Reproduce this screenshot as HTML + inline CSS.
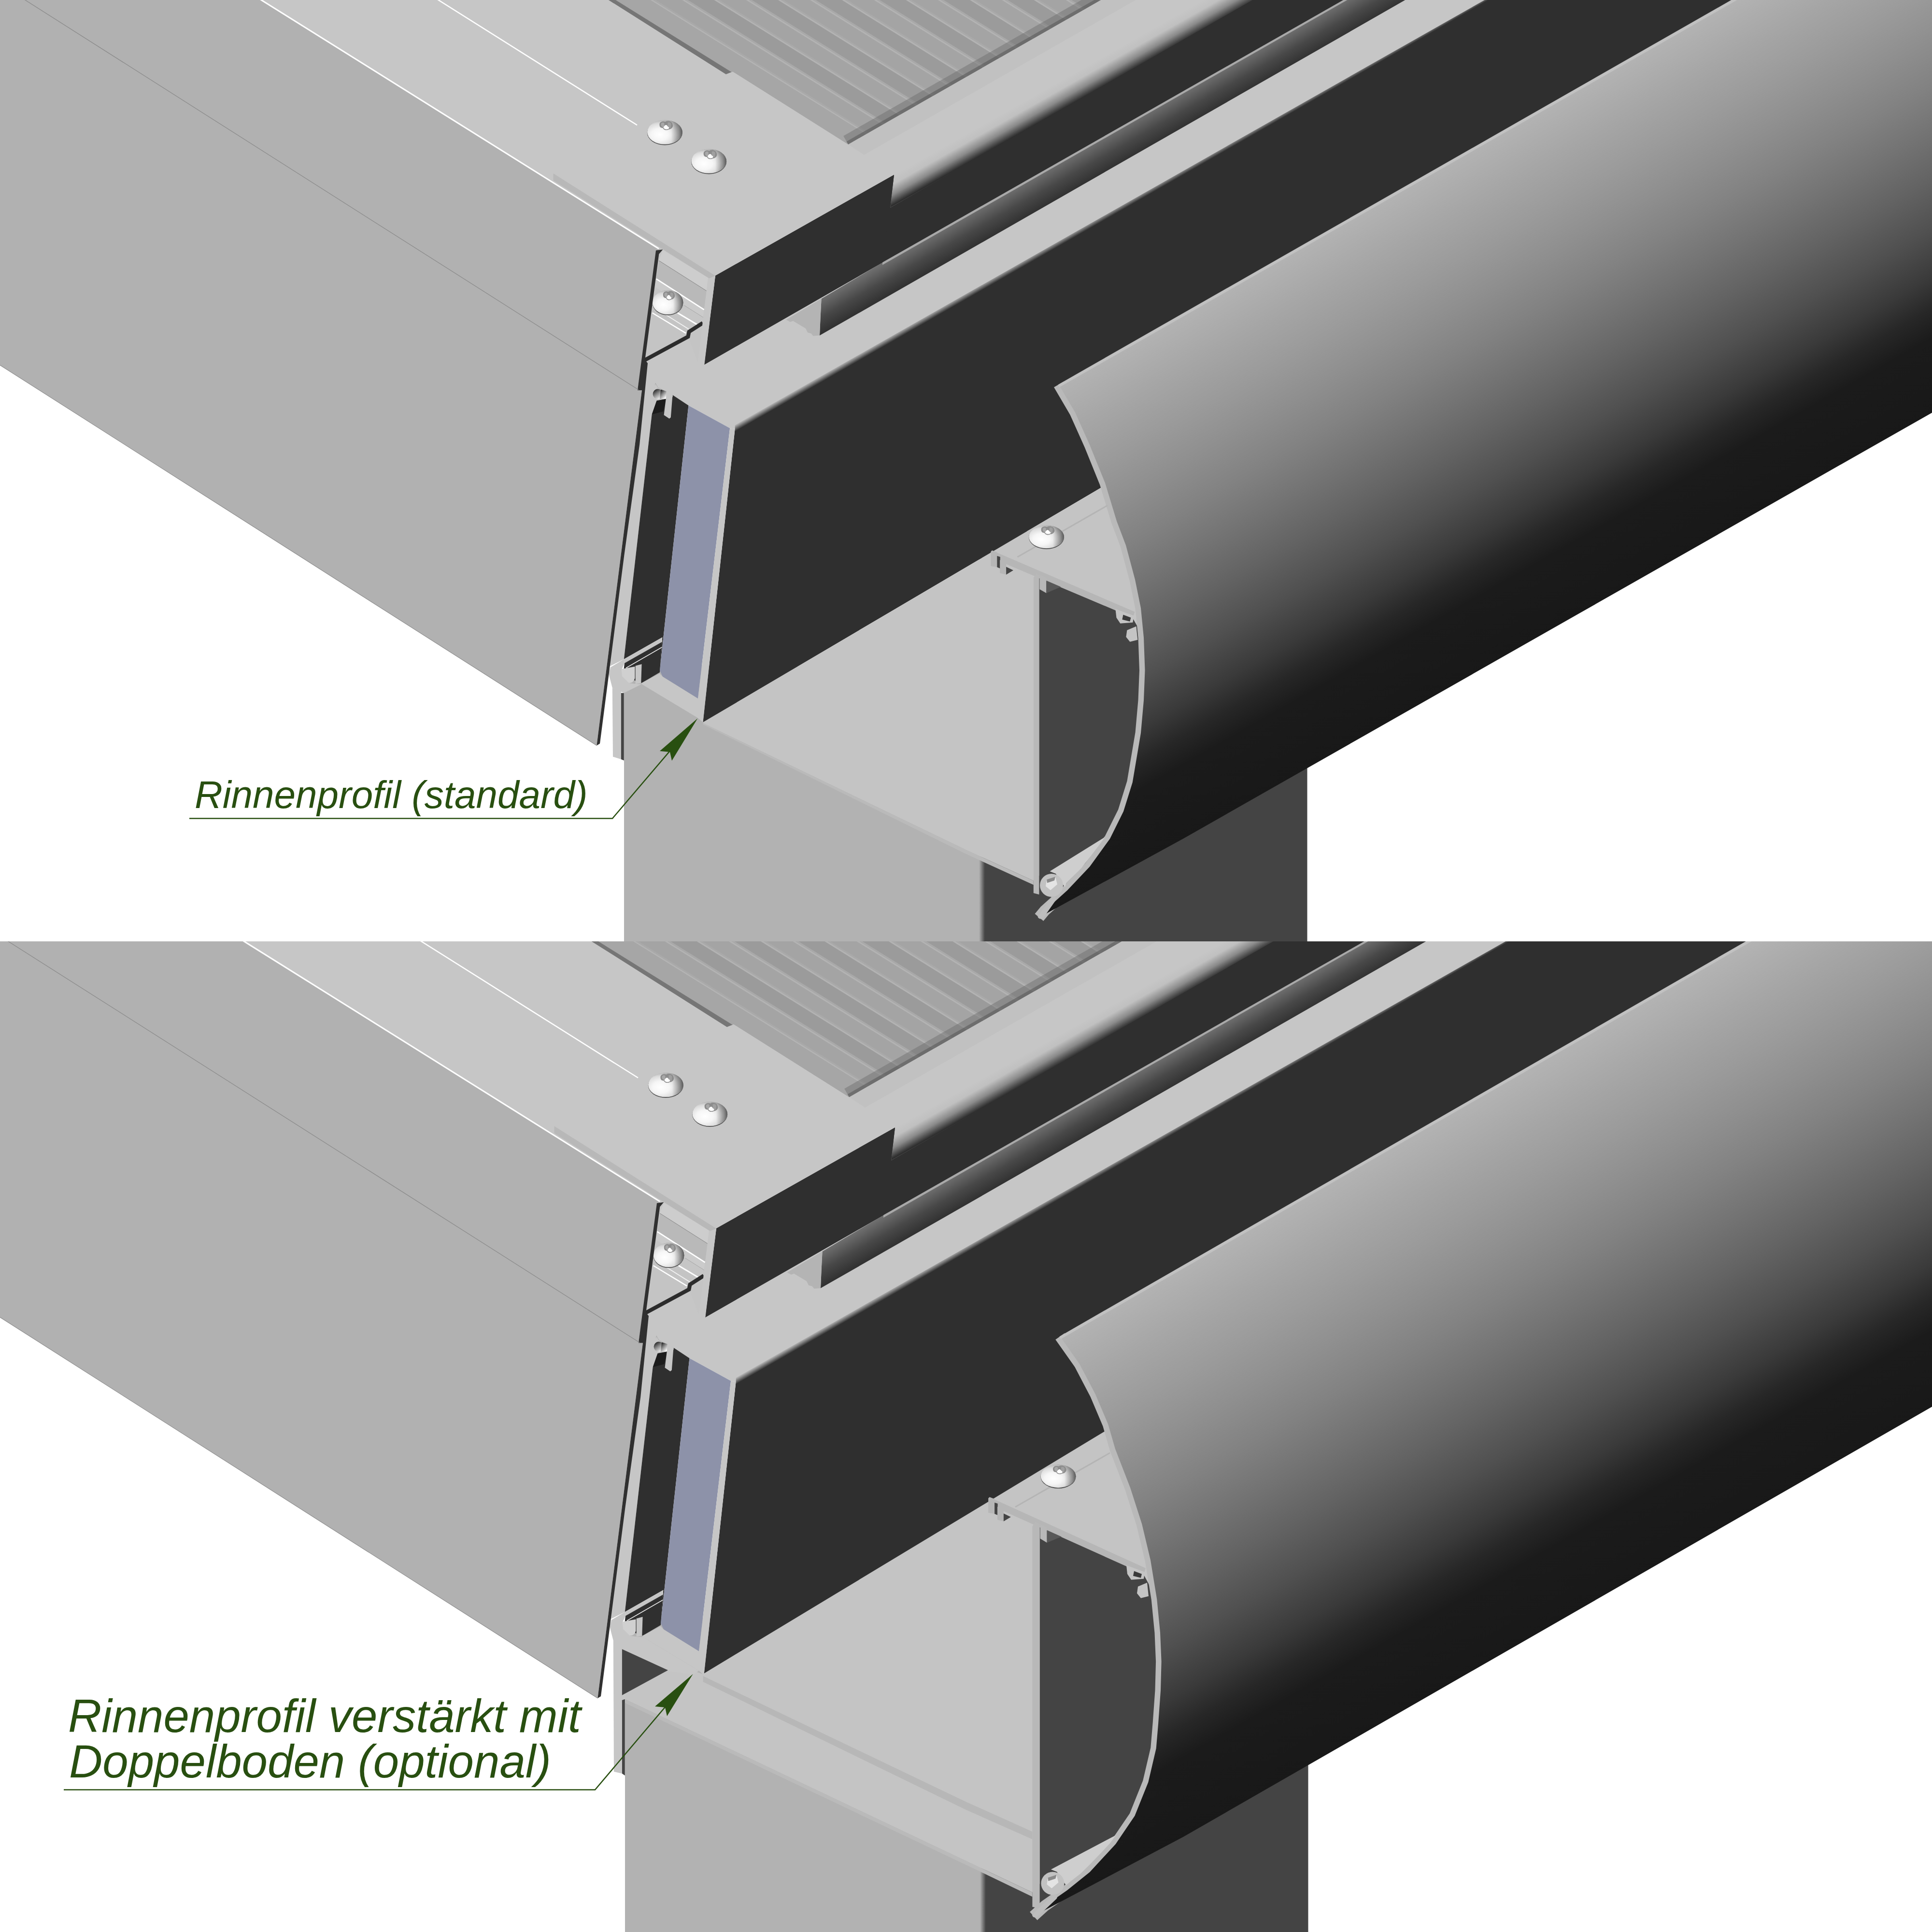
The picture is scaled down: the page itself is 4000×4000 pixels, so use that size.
<!DOCTYPE html>
<html><head><meta charset="utf-8"><title>Rinnenprofil</title>
<style>html,body{margin:0;padding:0;background:#fff}svg{display:block}</style></head>
<body>
<svg width="4000" height="4000" viewBox="0 0 4000 4000">
<defs>
<linearGradient id="gShroud" gradientUnits="userSpaceOnUse" x1="2192.0" y1="796.0" x2="2664.9" y2="1625.7">
 <stop offset="0" stop-color="#b3b3b3"/><stop offset="0.10" stop-color="#a6a6a6"/><stop offset="0.19" stop-color="#9b9b9b"/>
 <stop offset="0.28" stop-color="#8f8f8f"/><stop offset="0.37" stop-color="#828282"/><stop offset="0.46" stop-color="#737373"/>
 <stop offset="0.55" stop-color="#636363"/><stop offset="0.645" stop-color="#505050"/><stop offset="0.735" stop-color="#3a3a3a"/>
 <stop offset="0.795" stop-color="#272727"/><stop offset="0.85" stop-color="#1b1b1b"/><stop offset="1" stop-color="#181818"/>
</linearGradient>
<linearGradient id="gShroudB" gradientUnits="userSpaceOnUse" x1="2194.7" y1="2766.8" x2="2709.7" y2="3670.3">
 <stop offset="0" stop-color="#b3b3b3"/><stop offset="0.10" stop-color="#a6a6a6"/><stop offset="0.19" stop-color="#9b9b9b"/>
 <stop offset="0.28" stop-color="#8f8f8f"/><stop offset="0.37" stop-color="#828282"/><stop offset="0.46" stop-color="#737373"/>
 <stop offset="0.55" stop-color="#636363"/><stop offset="0.645" stop-color="#505050"/><stop offset="0.735" stop-color="#3a3a3a"/>
 <stop offset="0.795" stop-color="#272727"/><stop offset="0.85" stop-color="#1b1b1b"/><stop offset="1" stop-color="#181818"/>
</linearGradient>

<linearGradient id="gNose" gradientUnits="userSpaceOnUse" x1="1851" y1="362" x2="1877" y2="408">
 <stop offset="0" stop-color="#c6c6c6"/><stop offset="0.3" stop-color="#c0c0c0"/><stop offset="0.65" stop-color="#8a8a8a"/><stop offset="1" stop-color="#2f2f2f"/>
</linearGradient>
<linearGradient id="gGasket" gradientUnits="userSpaceOnUse" x1="1827" y1="546" x2="1860" y2="604">
 <stop offset="0" stop-color="#6e6e6e"/><stop offset="0.5" stop-color="#484848"/><stop offset="1" stop-color="#2f2f2f"/>
</linearGradient>
<linearGradient id="gGutEdge" gradientUnits="userSpaceOnUse" x1="1521.7" y1="879" x2="1528" y2="890">
 <stop offset="0" stop-color="#c6c6c6"/><stop offset="1" stop-color="#2f2f2f"/>
</linearGradient>

<radialGradient id="gScrew" cx="0.36" cy="0.60" r="0.70">
 <stop offset="0" stop-color="#ffffff"/><stop offset="0.35" stop-color="#f6f6f6"/><stop offset="0.65" stop-color="#dcdcdc"/><stop offset="0.88" stop-color="#b0b0b0"/><stop offset="1" stop-color="#8a8a8a"/>
</radialGradient>
<linearGradient id="gScrewR" x1="0" y1="0" x2="1" y2="0">
 <stop offset="0" stop-color="#505050" stop-opacity="0"/><stop offset="0.68" stop-color="#505050" stop-opacity="0"/><stop offset="0.9" stop-color="#505050" stop-opacity="0.45"/><stop offset="1" stop-color="#404040" stop-opacity="0.75"/>
</linearGradient>
<g id="screw">
 <ellipse cx="0" cy="0.8" rx="36.7" ry="25.8" fill="#4c4c4c"/>
 <ellipse cx="0" cy="-0.3" rx="36.5" ry="25.2" fill="url(#gScrew)"/>
 <ellipse cx="0" cy="-0.3" rx="36.5" ry="25.2" fill="url(#gScrewR)"/>
 <path d="M-11,-15 C-12,-22 -4,-24 1,-22 C6,-25 15,-23 16,-17 C19,-12 14,-6 8,-6 C4,-3 -3,-5 -4,-9 C-9,-9 -11,-12 -11,-15 Z" fill="#8c8c8c"/>
 <path d="M-8,-16 C-8,-21 -3,-21 -1,-19 L-1,-11 C-4,-10 -8,-12 -8,-16 Z" fill="#a8a8a8"/>
 <path d="M6,-20 C10,-22 14,-19 13,-15 L12,-9 C9,-8 7,-9 6,-11 Z" fill="#a0a0a0"/>
 <path d="M-1,-13 C2,-17 5,-15 6,-12 C9,-11 10,-8 7,-7 C3,-5 -2,-7 -3,-10 Z" fill="#ffffff"/>
</g>

<linearGradient id="gPostEdge" x1="0" y1="0" x2="1" y2="0">
 <stop offset="0" stop-color="#b2b2b2"/><stop offset="1" stop-color="#444444"/>
</linearGradient>
<linearGradient id="gPort" x1="0.15" y1="0.1" x2="0.75" y2="0.95"><stop offset="0" stop-color="#262626"/><stop offset="0.45" stop-color="#8a8a8a"/><stop offset="1" stop-color="#f4f4f4"/></linearGradient>
<clipPath id="cpPoly"><polygon points="1212.5,-30.0 2332.0,-30.0 1756.2,298.9 1517.0,148.2 1503.0,153.7"/></clipPath>

<clipPath id="cpT"><rect x="0" y="0" width="4000" height="1949"/></clipPath>
<clipPath id="cpB"><rect x="0" y="1949" width="4000" height="2051"/></clipPath>
<g id="common">
<rect x="1292" y="1380" width="744" height="2800" fill="#b2b2b2"/>
<rect x="2034" y="1100" width="672.5" height="3100" fill="#444444"/>
<rect x="2027" y="1100" width="12" height="3100" fill="url(#gPostEdge)"/>
<polygon points="1336.0,752.0 1357.0,793.0 1362.0,802.0 1393.0,818.0 1425.5,839.4 1511.2,886.6 1521.7,887.4 4100.0,-574.5 4100.0,-1200.0 1336.0,400.0" fill="#c6c6c6" />
<polygon points="1521.7,887.4 4100.0,-574.5 4100.0,0.0 2500.0,880.3 2279.9,1009.5 1455.4,1495.5" fill="#2f2f2f" />
<polygon points="1521.7,880.0 4100.0,-581.9 4100.0,-568.9 1521.7,893.0" fill="url(#gGutEdge)" />
<polygon points="1330.0,740.0 1350.0,740.0 1360.0,800.0 1330.0,830.0" fill="#c6c6c6" />
<polygon points="1336.0,752.0 1345.0,770.0 1357.0,793.0 1291.8,1364.8 1258.0,1381.6" fill="#c6c6c6" />
<polygon points="1357.0,793.0 1362.0,802.0 1393.0,818.0 1425.5,839.4 1366.0,1388.0 1371.3,1319.5 1291.8,1364.8" fill="#2f2f2f" />
<polygon points="1291.8,1364.8 1371.3,1319.5 1370.5,1329.0 1293.0,1373.0" fill="#c6c6c6" />
<polygon points="1293.0,1373.0 1370.5,1329.0 1366.0,1392.0 1328.6,1414.0 1290.0,1400.0" fill="#2f2f2f" />
<line x1="1296.0" y1="1383.0" x2="1370.5" y2="1340.0" stroke="#e8e8e8" stroke-width="1.5" />
<polygon points="1315.6,1378.5 1328.6,1375.0 1327.3,1414.0 1315.6,1416.0" fill="#c6c6c6" />
<path d="M1287.5,1385 L1314.5,1380 L1314.5,1404 Q1312,1414 1302,1414 Q1290,1412 1287.5,1398 Z" fill="#d0d0d0"/>
<polygon points="1357.0,793.0 1362.0,802.0 1393.0,818.0 1392.5,822.0 1379.5,826.0 1359.6,830.0 1349.7,858.0 1345.0,860.0" fill="#c6c6c6" />
<circle cx="1362.1" cy="815.8" r="10.5" fill="url(#gPort)"/>
<polygon points="1368.0,806.5 1379.5,810.0 1379.5,826.0 1366.0,826.0" fill="url(#gPort)" />
<polygon points="1359.6,829.4 1379.5,825.7 1373.3,851.8 1349.7,858.0" fill="#1c1c1c" />
<polygon points="1379.5,819.5 1380.0,810.0 1392.5,817.6 1388.8,864.2 1385.7,866.7 1374.5,859.3" fill="#c6c6c6" />
<polygon points="1425.5,839.4 1511.2,886.6 1445.0,1446.3 1372.0,1401.0 1366.0,1388.0" fill="#8d92a9" />
<polygon points="1511.2,886.6 1521.7,887.4 1455.4,1495.5 1445.0,1486.4 1445.0,1446.3" fill="#c6c6c6" />
<polygon points="1328.6,1414.0 1365.6,1394.6 1372.0,1401.0 1445.0,1446.3 1445.0,1486.4 1328.6,1416.6" fill="#c6c6c6" />
<polygon points="1263.9,1381.6 1291.8,1364.8 1293.0,1373.0 1287.5,1385.0 1288.0,1400.0 1302.0,1414.0 1315.6,1416.0 1328.6,1416.6 1291.8,1434.7 1267.8,1424.0 1260.0,1394.6" fill="#c6c6c6" />
<polygon points="493.0,-30.0 2535.0,-30.0 1851.0,362.0 1481.0,571.0 1371.0,518.0 1364.0,515.0" fill="#c6c6c6" />
<polygon points="1851.0,362.0 2535.0,-30.0 2652.0,-30.0 1843.0,430.0" fill="url(#gNose)" />
<polygon points="1481.0,571.0 1851.0,362.0 1843.0,430.0 2646.0,-30.0 2840.0,-30.0 1827.0,543.5 1458.0,755.0" fill="#2f2f2f" />
<polygon points="1700.6,618.5 1827.0,543.5 2834.0,-30.0 2961.6,-30.0 1697.0,694.6 1698.5,660.0" fill="url(#gGasket)" />
<polygon points="1827.0,543.5 2834.0,-30.0 2842.0,-30.0 1827.0,548.5" fill="#a9a9a9" />
<polygon points="1481.0,571.0 1851.0,362.0 1843.0,430.0 1827.0,543.5 1458.0,755.0" fill="#2f2f2f" />
<polygon points="1627.6,662.0 1700.6,618.5 1699.0,650.0 1697.0,694.6 1683.5,695.6 1679.4,690.4 1672.1,688.4 1668.0,680.0 1642.1,664.6 1635.9,666.6" fill="#b4b4b4" />
<polygon points="1466.9,575.5 1481.0,571.0 1458.3,754.9 1444.6,749.7" fill="#c6c6c6" />
<polygon points="1364.0,517.0 1468.0,576.0 1444.6,749.7 1425.0,697.0 1336.0,745.0 1330.0,760.0" fill="#c4c4c4" />
<polygon points="1372.3,517.4 1468.0,576.1 1463.6,602.2 1364.3,539.1" fill="#cdcdcd" />
<line x1="1364.3" y1="539.8" x2="1463.4" y2="602.8" stroke="#8e8e8e" stroke-width="1.2" />
<polygon points="1364.2,540.5 1463.4,603.5 1457.8,639.9 1358.6,576.1" fill="#b9b9b9" />
<line x1="1358.6" y1="577.5" x2="1457.6" y2="641.2" stroke="#ffffff" stroke-width="3" />
<polygon points="1358.4,579.0 1457.4,642.8 1455.7,657.2 1356.0,594.5" fill="#cbcbcb" />
<line x1="1416.5" y1="632.6" x2="1455.7" y2="657.2" stroke="#9a9a9a" stroke-width="1.2" />
<polygon points="1356.0,594.5 1455.7,657.2 1453.5,669.6 1352.0,640.0" fill="#c6c6c6" />
<line x1="1402.8" y1="647.8" x2="1445.5" y2="673.2" stroke="#ffffff" stroke-width="3" />
<line x1="1350.6" y1="647.8" x2="1420.1" y2="689.9" stroke="#ffffff" stroke-width="2.5" />
<line x1="1360.0" y1="640.0" x2="1426.0" y2="681.5" stroke="#f2f2f2" stroke-width="2" />
<polyline points="1334,746 1424.5,697.1 1426.5,687 1455,668.6" fill="none" stroke="#2c2c2c" stroke-width="8" stroke-linejoin="miter"/>
<polygon points="1465.8,576.1 1481.0,571.0 1457.8,755.1 1445.5,744.9" fill="#c6c6c6" />
<polygon points="1145.5,359.0 1481.0,571.0 1468.0,576.3 1145.5,373.5" fill="#b8b8b8" />
<use href="#screw" transform="translate(1382.5,626.1) scale(0.872,1.004)"/>
<polygon points="-5.0,-30.0 493.0,-30.0 1364.0,515.0 1320.0,808.0 1329.0,808.0 1235.4,1543.4 -5.0,753.0" fill="#b1b1b1" />
<polygon points="1358.0,518.4 1372.3,516.4 1364.3,526.0 1335.4,745.0 1341.0,752.0 1324.2,920.0 1292.3,1150.0 1242.0,1539.5 1235.4,1543.4 1329.0,808.0 1320.0,808.0" fill="#303030" />
<line x1="4.8" y1="-30.0" x2="1322.0" y2="807.0" stroke="#8c8c8c" stroke-width="1.3" />
<line x1="493.0" y1="-30.0" x2="1364.0" y2="515.0" stroke="#ffffff" stroke-width="3" />
<line x1="-5.0" y1="752.8" x2="1235.4" y2="1543.4" stroke="#909090" stroke-width="1.2" />
<line x1="860.0" y1="-30.0" x2="1319.0" y2="259.0" stroke="#ffffff" stroke-width="2.5" />
<polygon points="1756.2,298.9 2332.0,-30.0 2404.0,-30.0 1788.8,320.7" fill="#c1c1c1" />
<g clip-path="url(#cpPoly)"><polygon points="1212.5,-30.0 2332.0,-30.0 1756.2,298.9 1517.0,148.2 1503.0,153.7" fill="#9b9b9b" />
<polygon points="1284.7,-40.0 1350.9,-40.0 1961.8,340.0 1895.6,340.0" fill="#a4a4a4" />
<polygon points="1417.1,-40.0 1483.3,-40.0 2094.2,340.0 2028.0,340.0" fill="#a4a4a4" />
<polygon points="1549.5,-40.0 1615.7,-40.0 2226.6,340.0 2160.4,340.0" fill="#a4a4a4" />
<polygon points="1681.9,-40.0 1748.1,-40.0 2359.0,340.0 2292.8,340.0" fill="#a4a4a4" />
<polygon points="1814.3,-40.0 1880.5,-40.0 2491.4,340.0 2425.2,340.0" fill="#a4a4a4" />
<polygon points="1946.7,-40.0 2012.9,-40.0 2623.8,340.0 2557.6,340.0" fill="#a4a4a4" />
<polygon points="2079.1,-40.0 2145.3,-40.0 2756.2,340.0 2690.0,340.0" fill="#a4a4a4" />
<polygon points="2211.5,-40.0 2277.7,-40.0 2888.6,340.0 2822.4,340.0" fill="#a4a4a4" />
<polygon points="2343.9,-40.0 2410.1,-40.0 3021.0,340.0 2954.8,340.0" fill="#a4a4a4" />
<polygon points="1215.5,-40.0 1221.5,-40.0 1832.4,340.0 1826.4,340.0" fill="#b3b3b3" />
<polygon points="1221.5,-40.0 1227.5,-40.0 1838.4,340.0 1832.4,340.0" fill="#a9a9a9" />
<polygon points="1281.7,-40.0 1287.7,-40.0 1898.6,340.0 1892.6,340.0" fill="#b3b3b3" />
<polygon points="1287.7,-40.0 1293.7,-40.0 1904.6,340.0 1898.6,340.0" fill="#a9a9a9" />
<polygon points="1347.9,-40.0 1353.9,-40.0 1964.8,340.0 1958.8,340.0" fill="#b3b3b3" />
<polygon points="1353.9,-40.0 1359.9,-40.0 1970.8,340.0 1964.8,340.0" fill="#a9a9a9" />
<polygon points="1414.1,-40.0 1420.1,-40.0 2031.0,340.0 2025.0,340.0" fill="#b3b3b3" />
<polygon points="1420.1,-40.0 1426.1,-40.0 2037.0,340.0 2031.0,340.0" fill="#a9a9a9" />
<polygon points="1480.3,-40.0 1486.3,-40.0 2097.2,340.0 2091.2,340.0" fill="#b3b3b3" />
<polygon points="1486.3,-40.0 1492.3,-40.0 2103.2,340.0 2097.2,340.0" fill="#a9a9a9" />
<polygon points="1546.5,-40.0 1552.5,-40.0 2163.4,340.0 2157.4,340.0" fill="#b3b3b3" />
<polygon points="1552.5,-40.0 1558.5,-40.0 2169.4,340.0 2163.4,340.0" fill="#a9a9a9" />
<polygon points="1612.7,-40.0 1618.7,-40.0 2229.6,340.0 2223.6,340.0" fill="#b3b3b3" />
<polygon points="1618.7,-40.0 1624.7,-40.0 2235.6,340.0 2229.6,340.0" fill="#a9a9a9" />
<polygon points="1678.9,-40.0 1684.9,-40.0 2295.8,340.0 2289.8,340.0" fill="#b3b3b3" />
<polygon points="1684.9,-40.0 1690.9,-40.0 2301.8,340.0 2295.8,340.0" fill="#a9a9a9" />
<polygon points="1745.1,-40.0 1751.1,-40.0 2362.0,340.0 2356.0,340.0" fill="#b3b3b3" />
<polygon points="1751.1,-40.0 1757.1,-40.0 2368.0,340.0 2362.0,340.0" fill="#a9a9a9" />
<polygon points="1811.3,-40.0 1817.3,-40.0 2428.2,340.0 2422.2,340.0" fill="#b3b3b3" />
<polygon points="1817.3,-40.0 1823.3,-40.0 2434.2,340.0 2428.2,340.0" fill="#a9a9a9" />
<polygon points="1877.5,-40.0 1883.5,-40.0 2494.4,340.0 2488.4,340.0" fill="#b3b3b3" />
<polygon points="1883.5,-40.0 1889.5,-40.0 2500.4,340.0 2494.4,340.0" fill="#a9a9a9" />
<polygon points="1943.7,-40.0 1949.7,-40.0 2560.6,340.0 2554.6,340.0" fill="#b3b3b3" />
<polygon points="1949.7,-40.0 1955.7,-40.0 2566.6,340.0 2560.6,340.0" fill="#a9a9a9" />
<polygon points="2009.9,-40.0 2015.9,-40.0 2626.8,340.0 2620.8,340.0" fill="#b3b3b3" />
<polygon points="2015.9,-40.0 2021.9,-40.0 2632.8,340.0 2626.8,340.0" fill="#a9a9a9" />
<polygon points="2076.1,-40.0 2082.1,-40.0 2693.0,340.0 2687.0,340.0" fill="#b3b3b3" />
<polygon points="2082.1,-40.0 2088.1,-40.0 2699.0,340.0 2693.0,340.0" fill="#a9a9a9" />
<polygon points="2142.3,-40.0 2148.3,-40.0 2759.2,340.0 2753.2,340.0" fill="#b3b3b3" />
<polygon points="2148.3,-40.0 2154.3,-40.0 2765.2,340.0 2759.2,340.0" fill="#a9a9a9" />
<polygon points="2208.5,-40.0 2214.5,-40.0 2825.4,340.0 2819.4,340.0" fill="#b3b3b3" />
<polygon points="2214.5,-40.0 2220.5,-40.0 2831.4,340.0 2825.4,340.0" fill="#a9a9a9" />
<polygon points="2274.7,-40.0 2280.7,-40.0 2891.6,340.0 2885.6,340.0" fill="#b3b3b3" />
<polygon points="2280.7,-40.0 2286.7,-40.0 2897.6,340.0 2891.6,340.0" fill="#a9a9a9" />
<polygon points="2340.9,-40.0 2346.9,-40.0 2957.8,340.0 2951.8,340.0" fill="#b3b3b3" />
<polygon points="2346.9,-40.0 2352.9,-40.0 2963.8,340.0 2957.8,340.0" fill="#a9a9a9" />
<polygon points="2407.1,-40.0 2413.1,-40.0 3024.0,340.0 3018.0,340.0" fill="#b3b3b3" />
<polygon points="2413.1,-40.0 2419.1,-40.0 3030.0,340.0 3024.0,340.0" fill="#a9a9a9" />
<polygon points="1210.2,-40.0 1281.7,-40.0 1892.6,340.0 1821.1,340.0" fill="#a6a6a6" />
<polygon points="1135.7,-40.0 1210.2,-40.0 1821.1,340.0 1746.6,340.0" fill="#767676" />
<polygon points="1756.2,298.9 2332.0,-30.0 2322.0,-47.4 1746.2,281.5" fill="#6c6c6c" fill-opacity="0.45"/>
<polygon points="1756.2,298.9 2332.0,-30.0 2328.5,-36.0 1752.7,292.9" fill="#5c5c5c" fill-opacity="0.6"/>
</g>
<use href="#screw" transform="translate(1376.4,273.9) scale(0.995,1.000)"/>
<use href="#screw" transform="translate(1467.7,333.9) scale(0.995,1.000)"/>

</g>
</defs>
<rect x="0" y="0" width="4000" height="4000" fill="#ffffff"/>
<g clip-path="url(#cpT)">
<use href="#common"/>
<polygon points="1455.4,1495.5 2279.9,1009.5 2500.0,880.3 2500.0,1500.0 2139.8,1823.6 2000.0,1759.6 1455.4,1497.0" fill="#c4c4c4" />
<polygon points="1455.4,1497.0 2000.0,1759.6 2139.8,1823.6 2139.8,1832.0 2000.0,1768.0 1455.4,1500.0" fill="#bababa" />
<polygon points="1267.8,1424.0 1285.9,1430.0 1285.9,1572.0 1269.0,1566.7" fill="#c6c6c6" />
<polygon points="1285.9,1434.7 1291.8,1434.7 1291.8,1574.4 1285.9,1572.0" fill="#444444" />
<polygon points="2151.4,1197.0 2343.4,1276.7 2368.0,1320.0 2370.5,1388.0 2368.0,1450.0 2362.0,1517.6 2344.7,1620.0 2326.0,1680.0 2298.0,1736.4 2256.0,1794.6 2209.6,1843.5 2163.0,1885.4 2151.4,1899.4 2151.4,1852.0" fill="#444444" />
<path d="M2192.0,796.0 L2226.0,854.0 L2256.0,921.0 L2288.0,1000.0 L2312.2,1079.4 L2331.0,1129.0 L2350.0,1200.0 L2362.0,1259.0 L2368.0,1320.0 L2370.5,1388.0 L2368.0,1450.0 L2362.0,1517.6 L2344.7,1620.0 L2326.0,1680.0 L2298.0,1736.4 L2256.0,1794.6 L2209.6,1843.5 L2163.0,1885.4 L2151.4,1899.4" fill="none" stroke="#b9b9b9" stroke-width="23" stroke-linejoin="round"/>
<polygon points="2192.0,796.0 2226.0,854.0 2256.0,921.0 2288.0,1000.0 2312.2,1079.4 2331.0,1129.0 2350.0,1200.0 2362.0,1259.0 2368.0,1320.0 2370.5,1388.0 2368.0,1450.0 2362.0,1517.6 2344.7,1620.0 2326.0,1680.0 2298.0,1736.4 2256.0,1794.6 2209.6,1843.5 2163.0,1885.4 2151.4,1899.4 2450.0,1736.3 4100.0,797.5 4100.0,-294.2" fill="url(#gShroud)" />
<line x1="2192.0" y1="799.0" x2="4100.0" y2="-291.2" stroke="#c4c4c4" stroke-width="6" stroke-opacity="0.8"/>
<circle cx="2154.4" cy="1896.4" r="6" fill="#b9b9b9"/>
<polygon points="2062.0,1143.3 2349.4,1266.7 2345.4,1279.0 2064.0,1159.7" fill="#b6b6b6" />
<polygon points="2051.4,1142.0 2054.0,1139.5 2064.3,1143.5 2064.3,1174.2 2051.4,1172.0" fill="#b6b6b6" />
<polygon points="2064.3,1150.9 2070.8,1153.0 2070.8,1177.0 2064.3,1174.2" fill="#444444" />
<polygon points="2070.2,1160.0 2073.0,1157.4 2083.1,1161.5 2083.1,1189.8 2070.2,1186.5" fill="#b6b6b6" />
<polygon points="2083.1,1173.6 2098.0,1180.7 2083.1,1189.8" fill="#444444" />
<polygon points="2139.8,1196.0 2145.8,1187.0 2151.4,1191.0 2151.4,1852.0 2139.8,1849.0" fill="#b8b8b8" />
<polygon points="2152.4,1190.1 2166.4,1196.1 2166.4,1228.1 2152.4,1220.1" fill="#b8b8b8" />
<polygon points="2166.4,1202.1 2196.4,1215.0 2166.4,1228.1" fill="#585858" />
<line x1="2106.5" y1="1153.2" x2="2292.8" y2="1046.4" stroke="#b4b4b4" stroke-width="3" />
<polygon points="2309.4,1260.7 2347.4,1274.7 2345.4,1288.7 2319.4,1290.7 2311.4,1278.7" fill="#c4c4c4" />
<polygon points="2325.4,1272.7 2341.4,1278.7 2339.4,1286.7 2323.4,1282.7" fill="#3a3a3a" />
<polygon points="2333.4,1304.7 2352.4,1296.7 2355.4,1324.7 2339.4,1328.7 2331.4,1318.7" fill="#c4c4c4" />
<polygon points="2173.5,1804.0 2287.7,1733.0 2276.2,1749.0 2264.0,1765.0 2251.8,1781.0 2239.1,1797.0 2223.2,1813.0 2207.4,1829.0 2205.0,1836.5 2193.0,1822.5 2186.0,1809.0" fill="#cecece" />
<circle cx="2177" cy="1833" r="24" fill="#c2c2c2"/><path d="M2167,1821 L2185,1815 L2189,1831 L2175,1843 L2165,1835 Z" fill="#e4e4e4"/><path d="M2167,1821 L2185,1815 L2183,1823 L2168,1828 Z" fill="#8a8a8a"/>
<line x1="2181" y1="1861" x2="2156.4" y2="1896.4" stroke="#bdbdbd" stroke-width="11" stroke-linecap="round"/>
<use href="#screw" transform="translate(2166.6,1111.7) scale(0.995,0.949)"/>
<text x="403" y="1672.5" font-family="Liberation Sans, sans-serif" font-style="italic" font-size="80" fill="#284f10">Rinnenprofil (standard)</text>
<polyline points="392,1694.5 1268,1694.5 1420,1516" fill="none" stroke="#284f10" stroke-width="2.5"/>
<polygon points="1444.4,1487.3 1366.0,1555.0 1387.0,1557.0 1391.0,1575.0" fill="#284f10" />

</g>
<g clip-path="url(#cpB)">
<use href="#common" transform="translate(2,1972.5)"/>
<polygon points="1455.4,3466.0 2282.5,2966.3 2500.0,2835.8 2500.0,3500.0 2137.4,3918.0 2000.0,3852.8 1290.0,3516.0 1290.0,3410.0" fill="#c4c4c4" />
<polygon points="1455.5,3470.0 2000.0,3730.5 2137.4,3792.2 2137.4,3808.0 2000.0,3747.0 1455.5,3482.0" fill="#b7b7b7" />
<polygon points="1290.0,3516.0 2000.0,3852.8 2137.4,3918.0 2137.4,3927.0 2000.0,3861.0 1290.0,3524.0" fill="#bababa" />
<polygon points="1293.8,3404.0 1330.6,3389.0 1447.0,3459.0 1436.0,3467.0 1383.0,3460.0 1286.0,3416.0" fill="#c6c6c6" />
<polygon points="1284.0,3390.0 1295.0,3398.0 1295.0,3526.0 1284.0,3526.0" fill="#c6c6c6" />
<polygon points="1286.0,3413.5 1383.0,3458.0 1286.0,3510.8" fill="#444444" />
<polygon points="1269.8,3396.0 1287.9,3402.0 1287.9,3672.0 1271.0,3668.0" fill="#c6c6c6" />
<polygon points="1287.9,3520.0 1293.8,3518.0 1293.8,3676.0 1287.9,3672.0" fill="#444444" />
<polygon points="2152.6,3161.0 2366.0,3256.8 2395.2,3310.6 2402.0,3380.0 2404.6,3440.0 2403.0,3500.0 2398.0,3569.4 2393.7,3620.0 2377.4,3689.7 2349.4,3759.6 2309.8,3817.9 2256.2,3876.1 2209.6,3913.4 2163.0,3946.0 2139.8,3967.0 2152.6,3951.0" fill="#444444" />
<path d="M2194.7,2766.8 L2235.1,2824.2 L2267.7,2886.3 L2294.1,2948.4 L2309.0,3000.0 L2340.0,3080.0 L2364.2,3155.3 L2382.0,3230.0 L2395.2,3310.6 L2402.0,3380.0 L2404.6,3440.0 L2403.0,3500.0 L2398.0,3569.4 L2393.7,3620.0 L2377.4,3689.7 L2349.4,3759.6 L2309.8,3817.9 L2256.2,3876.1 L2209.6,3913.4 L2163.0,3946.0 L2139.8,3967.0" fill="none" stroke="#b9b9b9" stroke-width="23" stroke-linejoin="round"/>
<polygon points="2194.7,2766.8 2235.1,2824.2 2267.7,2886.3 2294.1,2948.4 2309.0,3000.0 2340.0,3080.0 2364.2,3155.3 2382.0,3230.0 2395.2,3310.6 2402.0,3380.0 2404.6,3440.0 2403.0,3500.0 2398.0,3569.4 2393.7,3620.0 2377.4,3689.7 2349.4,3759.6 2309.8,3817.9 2256.2,3876.1 2209.6,3913.4 2163.0,3946.0 2139.8,3967.0 2450.0,3803.0 4100.0,2855.1 4100.0,1669.9" fill="url(#gShroudB)" />
<line x1="2194.7" y1="2769.8" x2="4100.0" y2="1672.9" stroke="#c4c4c4" stroke-width="6" stroke-opacity="0.8"/>
<circle cx="2142.8" cy="3964.0" r="6" fill="#b9b9b9"/>
<polygon points="2056.8,3103.5 2372.0,3246.8 2368.0,3259.0 2058.8,3120.0" fill="#b6b6b6" />
<polygon points="2046.2,3102.0 2048.8,3099.5 2059.1,3103.5 2059.1,3134.2 2046.2,3132.0" fill="#b6b6b6" />
<polygon points="2059.1,3110.9 2065.6,3113.0 2065.6,3137.0 2059.1,3134.2" fill="#444444" />
<polygon points="2065.0,3120.0 2067.8,3117.4 2077.9,3121.5 2077.9,3149.8 2065.0,3146.5" fill="#b6b6b6" />
<polygon points="2077.9,3133.6 2092.8,3140.7 2077.9,3149.8" fill="#444444" />
<polygon points="2137.4,3160.0 2143.4,3151.0 2152.6,3155.0 2152.6,3951.0 2137.4,3948.0" fill="#b8b8b8" />
<polygon points="2153.6,3155.5 2167.6,3161.9 2167.6,3193.9 2153.6,3185.5" fill="#b8b8b8" />
<polygon points="2167.6,3167.9 2197.6,3181.5 2167.6,3193.9" fill="#585858" />
<line x1="2102.0" y1="3120.0" x2="2298.0" y2="3008.0" stroke="#b4b4b4" stroke-width="3" />
<polygon points="2332.0,3240.8 2370.0,3254.8 2368.0,3268.8 2342.0,3270.8 2334.0,3258.8" fill="#c4c4c4" />
<polygon points="2348.0,3252.8 2364.0,3258.8 2362.0,3266.8 2346.0,3262.8" fill="#3a3a3a" />
<polygon points="2356.0,3284.8 2375.0,3276.8 2378.0,3304.8 2362.0,3308.8 2354.0,3298.8" fill="#c4c4c4" />
<polygon points="2175.9,3870.4 2310.4,3799.4 2298.8,3815.4 2284.0,3831.4 2268.6,3847.4 2253.2,3863.4 2236.7,3879.4 2216.1,3895.4 2207.4,3902.9 2195.4,3888.9 2188.4,3875.4" fill="#cecece" />
<circle cx="2179.4" cy="3899.4" r="24" fill="#c2c2c2"/><path d="M2169.4,3887.4 L2187.4,3881.4 L2191.4,3897.4 L2177.4,3909.4 L2167.4,3901.4 Z" fill="#e4e4e4"/><path d="M2169.4,3887.4 L2187.4,3881.4 L2185.4,3889.4 L2170.4,3894.4 Z" fill="#8a8a8a"/>
<line x1="2183.4" y1="3927.4" x2="2144.8" y2="3964" stroke="#bdbdbd" stroke-width="11" stroke-linecap="round"/>
<use href="#screw" transform="translate(2191,3056.5) scale(0.995,0.949)"/>
<text font-family="Liberation Sans, sans-serif" font-style="italic" font-size="96" fill="#284f10"><tspan x="141" y="3586">Rinnenprofil verstärkt mit</tspan><tspan x="143" y="3679.5">Doppelboden (optional)</tspan></text>
<polyline points="132,3705.5 1232,3705.5 1412,3493" fill="none" stroke="#284f10" stroke-width="2.5"/>
<polygon points="1434.8,3465.7 1356.0,3533.0 1377.0,3535.0 1381.0,3553.0" fill="#284f10" />

</g>
</svg>
</body></html>
